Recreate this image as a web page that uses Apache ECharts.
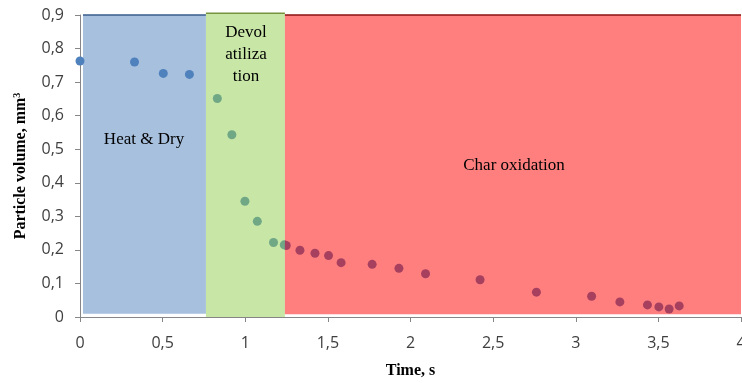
<!DOCTYPE html>
<html><head><meta charset="utf-8">
<script src="https://cdn.jsdelivr.net/npm/echarts@6/dist/echarts.min.js"></script>
<style>html,body{margin:0;padding:0;background:#fff}#c{width:742px;height:383px}</style>
</head><body><div id="c"></div>
<script>
// Data
const timeS = [0, 0.33, 0.504, 0.662, 0.831, 0.919, 0.998, 1.073, 1.171, 1.236,
  1.248, 1.331, 1.422, 1.504, 1.580, 1.768, 1.930, 2.091, 2.421, 2.762, 3.096, 3.267, 3.434, 3.503, 3.565, 3.626];
const volume = [0.763, 0.760, 0.726, 0.723, 0.651, 0.543, 0.345, 0.285, 0.222, 0.215,
  0.213, 0.199, 0.190, 0.183, 0.162, 0.157, 0.145, 0.129, 0.111, 0.074, 0.062, 0.045, 0.036, 0.030, 0.024, 0.033];
const phaseNames = ['Heat & Dry', 'Devol\natiliza\ntion', 'Char oxidation'];
const phaseStart = [0.018, 0.762, 1.240];
const phaseEnd = [0.762, 1.240, 4.0];
const phaseBottom = [0.01, 0, 0.008];
const phaseTop = [0.9, 0.905, 0.9];
const xTicks = {min: 0, max: 4, interval: 0.5};
const yTicks = {min: 0, max: 0.9, interval: 0.1};

const phaseFill = ['rgba(79,129,189,0.5)', 'rgba(146,208,80,0.5)', 'rgba(255,0,0,0.5)'];
const phaseEdge = ['#385d8a', '#77933c', '#8b1010'];

const chart = echarts.init(document.getElementById('c'));
const fmt = v => String(+v.toFixed(2)).replace('.', ',');
const points = timeS.map((t, i) => [t, volume[i]]);
const phases = phaseStart.map((s, i) => [s, phaseEnd[i], phaseBottom[i], phaseTop[i], i]);

chart.setOption({
  animation: false,
  grid: {left: 80, right: 1, top: 15, bottom: 66, outerBoundsMode: 'none', containLabel: false},
  xAxis: {
    type: 'value', min: xTicks.min, max: xTicks.max, interval: xTicks.interval,
    splitLine: {show: false},
    axisLine: {lineStyle: {color: '#868686', width: 1}},
    axisTick: {show: true, length: 5, lineStyle: {color: '#868686'}},
    axisLabel: {formatter: fmt, color: '#404040', fontFamily: 'Open Sans', fontSize: 16, margin: 18},
    name: 'Time, s', nameLocation: 'middle', nameGap: 46,
    nameTextStyle: {fontFamily: 'Liberation Serif', fontWeight: 'bold', fontSize: 16, color: '#000'}
  },
  yAxis: {
    type: 'value', min: yTicks.min, max: yTicks.max, interval: yTicks.interval,
    splitLine: {show: false},
    axisLine: {show: true, lineStyle: {color: '#868686', width: 1}},
    axisTick: {show: true, length: 5, lineStyle: {color: '#868686'}},
    axisLabel: {formatter: fmt, color: '#404040', fontFamily: 'Open Sans', fontSize: 16, margin: 16},
    name: 'Particle volume, mm{s|3}', nameLocation: 'middle', nameGap: 50, nameRotate: 90,
    nameTextStyle: {fontFamily: 'Liberation Serif', fontWeight: 'bold', fontSize: 16, color: '#000',
      rich: {s: {fontFamily: 'Liberation Serif', fontWeight: 'bold', fontSize: 10, verticalAlign: 'top', padding: [0,0,8,0]}}}
  },
  series: [
    {
      type: 'scatter', z: 2, symbolSize: 9,
      itemStyle: {color: '#4F81BD', opacity: 1},
      data: points
    },
    {
      type: 'custom', z: 5, silent: true, data: phases,
      encode: {x: [0, 1], y: [2, 3]},
      renderItem: function (params, api) {
        const i = api.value(4);
        const p0 = api.coord([api.value(0), api.value(3)]);
        const p1 = api.coord([api.value(1), api.value(2)]);
        return {
          type: 'group',
          children: [
            {type: 'rect', shape: {x: p0[0], y: p0[1], width: p1[0] - p0[0], height: p1[1] - p0[1]},
              style: {fill: phaseFill[i]}},
            {type: 'line', shape: {x1: p0[0], y1: p0[1], x2: p1[0], y2: p0[1]},
              style: {stroke: phaseEdge[i], lineWidth: 1.5}}
          ]
        };
      }
    }
  ],
  graphic: [
    {type: 'text', x: 144, y: 131, z: 10, style: {text: phaseNames[0], font: '17px "Liberation Serif"', fill: '#000', align: 'center'}},
    {type: 'text', x: 246, y: 22, z: 10, style: {text: phaseNames[1], font: '17px "Liberation Serif"', fill: '#000', lineHeight: 22, align: 'center'}},
    {type: 'text', x: 514, y: 157, z: 10, style: {text: phaseNames[2], font: '17px "Liberation Serif"', fill: '#000', align: 'center'}}
  ]
});
</script>
</body></html>
